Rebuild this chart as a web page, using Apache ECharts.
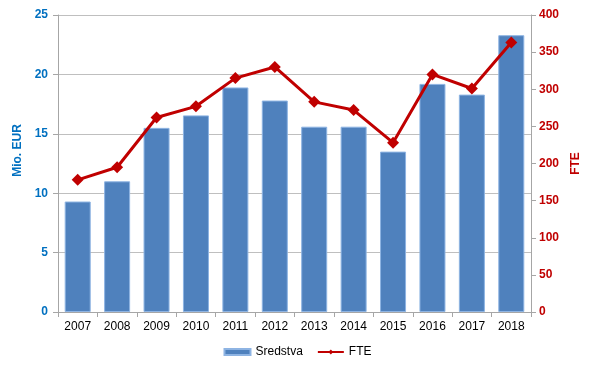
<!DOCTYPE html>
<html><head><meta charset="utf-8">
<script src="https://cdn.jsdelivr.net/npm/echarts@6/dist/echarts.min.js"></script>
<style>html,body{margin:0;padding:0;background:#fff}#c{width:595px;height:370px}</style>
</head><body><div id="c"></div>
<script>
const years = ['2007','2008','2009','2010','2011','2012','2013','2014','2015','2016','2017','2018'];
const sredstva = [9.3, 11.0, 15.5, 16.55, 18.9, 17.8, 15.6, 15.6, 13.5, 19.2, 18.3, 23.3];
const fte = [178, 195, 262, 277, 315, 330, 283, 272, 228, 320, 301, 363];

const chart = echarts.init(document.getElementById('c'));
const font = 'Liberation Sans, Arial, sans-serif';
chart.setOption({
  animation: false,
  textStyle: {fontFamily: font},
  grid: {left: 58, right: 64, top: 15, bottom: 58},
  legend: {
    bottom: 7, left: 'center', itemGap: 14,
    textStyle: {fontFamily: font, fontSize: 12, color: '#000'},
    data: [
      {name: 'Sredstva', icon: 'rect'},
      {name: 'FTE'}
    ],
    itemWidth: 26, itemHeight: 6
  },
  xAxis: {
    type: 'category', data: years,
    axisLine: {lineStyle: {color: '#A6A6A6', width: 1}},
    axisTick: {show: true, length: 5, lineStyle: {color: '#A6A6A6'}},
    axisLabel: {color: '#000', fontSize: 12, fontFamily: font, margin: 9}
  },
  yAxis: [
    {
      type: 'value', min: 0, max: 25, interval: 5, position: 'left',
      name: 'Mio. EUR', nameLocation: 'middle', nameGap: 32, nameRotate: 90,
      nameTextStyle: {color: '#0070C0', fontWeight: 'bold', fontSize: 12, fontFamily: font, padding: [0, 0, 0, 26]},
      axisLine: {show: true, lineStyle: {color: '#A6A6A6'}},
      axisTick: {show: true, length: 5, lineStyle: {color: '#A6A6A6'}},
      axisLabel: {color: '#0070C0', fontWeight: 'bold', fontSize: 12, fontFamily: font, margin: 10},
      splitLine: {lineStyle: {color: '#BFBFBF', width: 1}}
    },
    {
      type: 'value', min: 0, max: 400, interval: 50, position: 'right',
      name: 'FTE', nameLocation: 'middle', nameGap: 36, nameRotate: 90,
      nameTextStyle: {color: '#C00000', fontWeight: 'bold', fontSize: 12, fontFamily: font},
      axisLine: {show: true, lineStyle: {color: '#A6A6A6'}},
      axisTick: {show: true, length: 5, lineStyle: {color: '#A6A6A6'}},
      axisLabel: {color: '#C00000', fontWeight: 'bold', fontSize: 12, fontFamily: font, margin: 8},
      splitLine: {show: false}
    }
  ],
  series: [
    {
      name: 'Sredstva', type: 'bar', data: sredstva, yAxisIndex: 0,
      barCategoryGap: '34%',
      itemStyle: {color: '#4F81BD', borderColor: '#8EB4E3', borderWidth: 1}
    },
    {
      name: 'FTE', type: 'line', data: fte, yAxisIndex: 1,
      symbol: 'diamond', symbolSize: 12,
      lineStyle: {color: '#C00000', width: 3},
      itemStyle: {color: '#C00000'}
    }
  ]
});
</script>
</body></html>
